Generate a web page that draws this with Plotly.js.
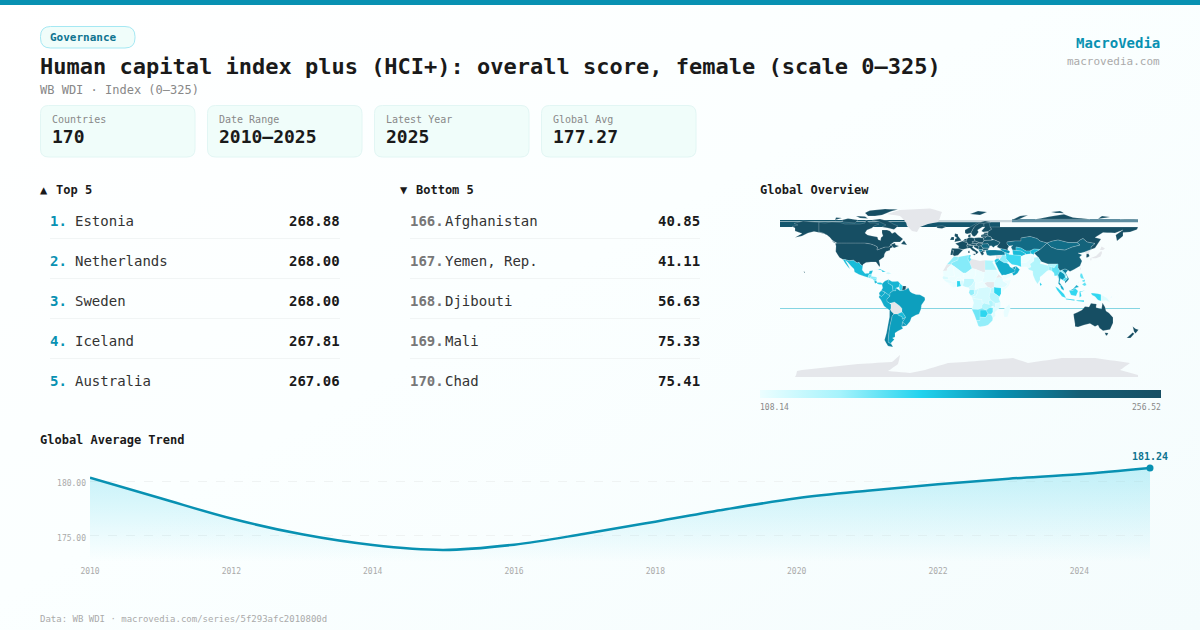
<!DOCTYPE html>
<html><head><meta charset="utf-8">
<style>html,body{margin:0;padding:0;width:1200px;height:630px;overflow:hidden;background:linear-gradient(150deg,#ffffff 0%,#fbffff 45%,#f4fcfd 100%)}</style>
<script>window.PlotlyGeoAssets={topojson:{}};</script>
<script src="https://cdn.plot.ly/plotly-3.0.1.min.js"></script>
</head><body><div id="chart" style="width:1200px;height:630px"></div>
<script>
// ---- data ----
const trendYears=[2010,2011,2012,2013,2014,2015,2016,2017,2018,2019,2020,2021,2022,2023,2024,2025];
const trendValues=[180.34,178.46,176.6,175.15,174.17,173.72,174.2,175.2,176.31,177.45,178.45,179.15,179.75,180.25,180.66,181.24];
const topNames=['Estonia','Netherlands','Sweden','Iceland','Australia'];
const topRanks=['1.','2.','3.','4.','5.'];
const topScores=['268.88','268.00','268.00','267.81','267.06'];
const bottomNames=['Afghanistan','Yemen, Rep.','Djibouti','Mali','Chad'];
const bottomRanks=['166.','167.','168.','169.','170.'];
const bottomScores=['40.85','41.11','56.63','75.33','75.41'];
const cardLabels=['Countries','Date Range','Latest Year','Global Avg'];
const cardValues=['170','2010–2025','2025','177.27'];
const scaleMin=108.14, scaleMax=256.52;
const mapCodes=['USA','CAN','RUS','AUS','NZL','GBR','IRL','ISL','FRA','DEU','ESP','PRT','ITA','NLD','BEL','CHE','AUT','DNK','NOR','SWE','FIN','EST','LVA','LTU','POL','CZE','SVK','HUN','BLR','UKR','ROU','BGR','SRB','HRV','ALB','GRC','TUR','KAZ','CHN','MNG','KOR','GEO','UZB','KGZ','TKM','IRN','IRQ','JOR','SAU','ARE','OMN','YEM','AFG','PAK','IND','LKA','BGD','MMR','THA','LAO','KHM','VNM','MYS','IDN','PHL','PNG','MEX','GTM','HND','NIC','CRI','PAN','CUB','HTI','COL','VEN','GUY','SUR','ECU','PER','BRA','PRY','URY','ARG','CHL','MAR','DZA','TUN','EGY','MRT','MLI','SEN','GIN','SLE','CIV','BFA','GHA','TGO','NGA','NER','TCD','CMR','CAF','SDN','ETH','SOM','KEN','UGA','GAB','COG','COD','AGO','ZMB','TZA','MOZ','MWI','ZWE','BWA','NAM','ZAF','MDG'];
const mapValues=[258,258,255,258,258,258,258,258,258,258,258,258,258,258,258,258,258,258,258,258,258,258,258,258,258,258,258,253,243,237,221,230,237,253,207,249,208,219,224,218,258,194,181,178,178,161.5,143,173,185,194,185,41,41,111,133,170,142,154,194,142,157,207,185,164,154,114,178,150,145,150,181,170,173,122,185,181,165,250,185,185,191,178,194,191,207,142,145,154,133,108,75,116,111,100,110,100,165,116,126,80,75,118,100,111,113,100,165,126,142,122,118,118,133,130,113,126,154,165,150,142,110];
const missingCodes=['GRL','ATA','LBY','BOL','SSD','JPN','PRK','GUF','ESH','ERI','SYR','TWN'];
const mapShapes={
USA:['-124.7,48.4 -123,49 -95,49 -89,48 -85,46.5 -82.5,45 -83,42 -79,43.5 -75,45 -71,45 -69,47.3 -67,45 -70,43.5 -70,41.7 -74,40.5 -75.5,38 -76,35 -81,31.5 -80,27 -80.5,25 -82.5,28 -84,30 -89,30 -94,29.5 -97,27.5 -97.2,26 -99.5,27.5 -101,29.7 -103,29 -106.5,31.8 -111,31.3 -115,32.5 -117.1,32.5 -120.5,34.5 -122.5,37.5 -124.3,40.5 -124,46','-141,69.6 -141,60 -137,59 -133,57 -130,54.5 -134,58 -146,60.5 -152,59 -158,56 -165,54.5 -158,58.5 -165,61 -165,64 -168,65.5 -162,67 -166,68.5 -157,71','-156.2,20.8 -155,19.8 -155.7,19 -156,19.8'],
CAN:['-141,69.6 -135,69 -128,70 -120,69.5 -115,68 -108,68 -100,68 -95,69 -94,72 -90,69 -85,69 -81,68 -86,66 -88,64 -93,62 -95,59 -92.5,57 -88,56 -82.5,55 -82,52.5 -79.5,51.5 -79,54.5 -77,56 -78,59 -78,62 -73,62 -70,61 -68,58.5 -65,60 -62,57 -57,53 -60,50 -66,50 -70,47 -65,49 -64.5,47 -61,46 -66,44 -67,45 -69,47.3 -71,45 -75,45 -79,43.5 -83,42 -82.5,45 -85,46.5 -89,48 -95,49 -123,49 -125,50 -128,52 -130,54.5 -133,57 -137,59 -141,60','-80,73 -72,71 -67,68 -62,66 -66,62.5 -72,64 -78,65 -74,67 -80,70 -88,72','-117,70 -105,69 -102,72 -112,73.5 -118,72','-92,76 -85,76 -78,77 -68,81 -62,82.5 -75,83 -90,81.5 -95,79','-125,72 -118,74 -124,74.5','-100,74 -92,73.5 -95,75.5 -104,76','-59,48 -56,51.5 -53,47','-128,50.5 -125,49 -124,48.5 -126,50.5'],
GRL:['-73,78 -60,82 -30,83.6 -18,80 -20,74 -22,70 -32,68 -40,65 -43,60 -48,61 -53,66 -54,70 -60,76'],
ATA:['-165,-85 -163,-79 -158,-78 -102,-72 -68,-70 -60,-63 -62,-72 -72,-79 -50,-81 -35,-78 -12,-71 5,-70 53,-66 68,-71 102,-66 135,-66 170,-71 160,-78 178,-83 178,-85'],
MEX:['-117.1,32.5 -115,32.5 -111,31.3 -106.5,31.8 -103,29 -101,29.7 -99.5,27.5 -97.2,26 -97.8,22 -95,18.5 -91,18.7 -90.5,21 -87,21.5 -88.5,18 -91,17.5 -92,14.5 -96,15.8 -101,17.5 -105.5,20 -106,23 -109,26 -112.5,30 -114.7,31.5 -112,27 -110,23 -112,25 -115,29'],
GTM:['-92,14.5 -91,17.5 -88.5,18 -88.5,15.7 -90,13.7'],HND:['-90,13.7 -88.5,15.7 -83.2,15 -85,13 -87.5,13'],NIC:['-87.5,13 -85,13 -83.2,15 -83.7,11 -85.7,11'],CRI:['-85.7,11 -83.7,11 -82.7,9.5 -85,8.5'],PAN:['-82.7,9.5 -79.5,9.5 -77.5,8.7 -78,7.3 -80.5,7.5 -83,8.2'],
CUB:['-85,22 -80,23 -74.2,20.2 -77.5,19.9 -78.5,21.7 -82,22.5'],HTI:['-74.4,18.5 -72,20 -68.5,18.5 -71.5,17.8'],
COL:['-77.5,8.7 -75,11 -71.5,12.4 -72,9 -67.5,6.2 -67,1.2 -70,-1 -70,-4.2 -72,-2.5 -75.3,0 -78.8,1.4 -77.3,4 -78,7.3'],
VEN:['-71.5,12.4 -68,10.5 -62,10.7 -60,8.5 -61,5 -64,4 -64,1.3 -67,1.2 -67.5,6.2 -72,9'],GUY:['-60,8.5 -57.2,6 -58,1.5 -60,1.3 -61,5'],SUR:['-57.2,6 -54,5.9 -54.5,2.3 -58,1.5'],GUF:['-54,5.9 -51.6,4.3 -54.5,2.3'],
ECU:['-78.8,1.4 -75.3,0 -75.3,-1.5 -78.3,-4.5 -80.3,-3.4 -81,-1'],PER:['-80.3,-3.4 -78.3,-4.5 -75.3,-1.5 -75.3,0 -72,-2.5 -70,-4.2 -73,-7 -73,-9.5 -70.5,-11 -69,-12.5 -69,-16 -69.5,-17.5 -70.4,-18.3 -76,-14 -79,-8 -81.3,-5'],
BOL:['-69,-12.5 -69,-11 -65.5,-10 -60.5,-13.7 -58,-16.5 -58,-20 -62.5,-22 -66,-22 -69,-19 -69.5,-17.5 -69,-16'],
BRA:['-51.6,4.3 -54.5,2.3 -58,1.5 -60,1.3 -64,4 -64,1.3 -67,1.2 -70,-1 -70,-4.2 -73,-7 -73,-9.5 -70.5,-11 -69,-11 -65.5,-10 -60.5,-13.7 -58,-16.5 -58,-20 -55,-24 -54.6,-25.6 -57.5,-30 -53.5,-33.7 -50,-29.5 -48.5,-25.5 -44,-23 -41,-22 -39,-17 -38.5,-13 -35,-8 -35.2,-5.5 -40,-2.8 -44,-2.5 -48,-1 -50,0.5'],
PRY:['-62.5,-22 -58,-20 -55,-24 -54.6,-25.6 -57.7,-27.3 -58,-24.5 -61,-23.8'],URY:['-57.5,-30 -53.5,-33.7 -58.3,-34.5 -58,-33'],
ARG:['-66,-22 -62.5,-22 -61,-23.8 -58,-24.5 -57.7,-27.3 -54.6,-25.6 -57.5,-30 -58,-33 -58.3,-34.5 -57,-36.5 -62,-39 -65,-41 -65,-45 -67.5,-46 -65.7,-47.5 -69,-51 -68.4,-52.4 -72,-50 -71.5,-44 -71,-39 -70,-33 -68.5,-27 -68,-24'],
CHL:['-69.5,-17.5 -69,-19 -66,-22 -68,-24 -68.5,-27 -70,-33 -71,-39 -71.5,-44 -72,-50 -68.4,-52.4 -67,-55 -72,-54 -75.5,-48 -73.5,-41 -72,-33 -70.5,-25 -70.4,-18.3'],
ISL:['-24,65.5 -18,66.3 -14,65 -18,63.4 -22.5,64'],IRL:['-10,52 -6,52 -6,55 -8.5,55'],GBR:['-5.5,50 1.5,51.5 0,53.5 -2,56 -2,57.7 -5,58.6 -5.5,56 -3,54 -5,53 -5,51.5'],
PRT:['-9.5,37 -7.4,37 -6.5,41.7 -8.8,42'],ESP:['-8.8,42 -6.5,41.7 -7.4,37 -5.5,36 -2,36.8 0,39 3,42 -1.7,43.4 -8,43.7'],
FRA:['-1.7,43.4 3,42.5 7.5,43.8 7,47.5 8,49 2.5,51 -1.5,49.5 -4.7,48.5 -1.2,46'],NLD:['3.4,51.4 6,51 7,53.3 4.7,53'],BEL:['2.5,51 3.4,51.4 6,51 6.2,49.5'],
DEU:['6,51 7,53.3 9,54.8 14,54 15,51 12.2,50.3 13.7,48.7 10,47.4 7.6,47.6 8,49 6.2,49.5'],CHE:['6,46.2 7.6,47.6 10,47.4 10.4,46.5 8,46'],AUT:['10,47.4 13.7,48.7 17,48.5 16,46.8 10.4,46.5'],
ITA:['7,45.5 8,46 10.4,46.5 13.7,46.5 12.3,44.5 16,41.8 18.5,40 16.8,38 16,38 15.5,40 12.5,41.5 10,44 7.5,43.8','12.5,38 15.6,38.2 15,36.7','8.2,39 9.7,39 9.5,41.2 8.2,41'],
DNK:['8,55 8.3,57 10.7,57.7 10.5,55'],NOR:['5,59 5,62 12,66 17,69 25,71 31,70 29,69.5 24,68.6 20,69 15,66 12,61 11,59 7,58','10,78 18,81 27,80 20,77'],SWE:['11,59 12,61 15,66 20,69 24,68 24,66 17.5,62 18.5,60 16.5,57 14.5,55.5 12.7,56'],FIN:['24,66 24,68.6 29,69.5 30,65 31.5,62.8 28,60.5 23,60 21.5,61 25,65'],
EST:['23.5,59.3 28,59.5 27.5,57.6 24.3,58'],LVA:['21,57 24.3,58 27.5,57.6 28,56 26.6,55.7 21,56'],LTU:['21,56 26.6,55.7 25,54 23.4,54 21,55.3'],BLR:['23.4,54 25,54 26.6,55.7 28,56 31,55 32,53 31,51.8 24,51.5'],
POL:['14,54 19,54.5 23.4,54 24,51.5 22.7,49.2 19,49.5 15,51'],CZE:['12.2,50.3 15,51 19,49.5 17,48.5 13.7,48.7'],SVK:['17,48.5 19,49.5 22.7,49.2 22,48.3 18.5,47.9'],HUN:['16,46.8 17,48.5 18.5,47.9 22,48.3 22.8,47.9 21,46.2 18.5,45.8'],
UKR:['24,51.5 31,51.8 34,52.2 40,49.6 38,47 35,46 33.5,44.5 31,46.5 29.5,45.4 28,48.3 22.8,47.9 22,48.3 22.7,49.2'],ROU:['22.8,47.9 28,48.3 29.7,45 28.6,43.8 23,43.8 21,46.2'],BGR:['23,43.8 28.6,43.8 28,42 23,41.4'],
HRV:['13.7,46.5 16,46.8 18.5,45.8 18.8,45 18.5,42.5 14,45'],SRB:['18.5,45.8 21,46.2 23,43.8 22.5,42.3 20,42.5 18.5,42.5 18.8,45'],ALB:['18.5,42.5 19.3,41 20,39.7 22.5,41 22.5,42.3 20,42.5'],GRC:['20,39.7 22,36.5 24,38 23,40 26,41 23,41.4 22.5,41'],
RUS:['28,60.5 31.5,62.8 30,65 178,65 177,62.5 170,60 163,59.5 163,56 157,51 155.7,57 163,62 155,59 143,59.5 135,54.5 141,53 135,44 131,42.5 131,45 135,48.5 127,50 123,53.5 120,52 117,49.5 108,49.5 98,52 92,50.8 87,49 80,51 77,53.5 70,55.5 61,54 61,51 55,51 47,50 47,48 49,46 47.5,43 48.5,41.5 45,42.5 40,43.5 37,45 38,47 40,49.6 34,52.2 32,53 31,55 28,56 27.5,57.6 28,59.5','75,72.8 80,73.5 90,75.5 104,77.7 113,74.5 130,72.8','52,72 57,72 68,76.8 60,76','138,73 150,75 142,76','178,72.8 170,73 160,72.8','91,80 100,81 104,78.8 96,79'],
KAZ:['47,50 55,51 61,51 61,54 70,55.5 77,53.5 80,51 87,49 85,47 80,42.5 74,43 70,41 66,41 61,44 56,45 56,41.5 52.5,42 51,45 53,46.5 49,46 47,48'],MNG:['87,49 92,50.8 98,52 108,49.5 117,49.5 120,47 112,45 105,42 97,42.8 91,45'],
CHN:['80,42.5 85,47 87,49 91,45 97,42.8 105,42 112,45 120,47 117,49.5 120,52 123,53.5 127,50 135,48.5 131,45 131,42.5 124.5,40 121,39 118,39 122,37 119.5,35 122,31 120,26 114,22.5 110,20.5 108,21.7 105,23 102,22 100,21 98,24 98,28 97,28 92,28 88,28 81,30.5 78,35 74,39'],
IND:['74,34.5 78,35 81,30.5 80,28.5 88,26.5 88,28 92,28 97,28 94,24 92,25 89,26 89,22 87,21 82,16.5 80,15 80,12 77.5,8 75,12 73,17 72.7,21 69,22.3 68,23.7 71,25 70,28 74,31'],PAK:['61,29.5 66,29.5 70,33 71,36 74,37 74,34.5 74,31 70,28 71,25 68,23.7 66.5,25.3 61.5,25'],AFG:['61,29.5 66,29.5 70,33 71,36 74,37 71,38.3 65,37.2 61,35.5'],
IRN:['44.8,39.5 48,38.5 49,37.5 54,37 61,36.5 61,35.5 61,29.5 61.5,25 57,26.8 52,27.5 49,30 46,33 46,36'],IRQ:['42,37 44.8,37 46,36 46,33 48.5,30 46.5,29 44,29.3 39,32.3 41,34.5'],SYR:['36,36.8 42,37 41,34.5 38.7,33.4 36,33'],JOR:['34.5,31.5 36,33 38.7,33.4 39,32.3 37,30 35,29.5'],
SAU:['35,29.5 37,30 39,32.3 44,29.3 46.5,29 48.5,28 50.2,25 52,24 55,22.5 55,20 52,19 46,17 43,17 42,16.5 39,21'],YEM:['43,17 46,17 52,19 53,16.5 45,12.8 43.3,12.7 42.7,15'],OMN:['55,22.5 56.3,25.8 59.7,22.5 57.7,19 55,17 53,16.5 52,19 55,20'],ARE:['52,24 56,26 55,22.5'],
TUR:['26,40 26,41.8 35,42 41.5,41.5 44.8,39.5 44.8,37 42,37 36,36.8 30,36.2 27,37'],GEO:['40,43.5 45,42.5 48.5,41.5 50,40.2 48.9,38.4 44.8,39.5 41.5,41.5'],TKM:['53,37.3 54,37 61,36.5 61,35.5 65,37.2 66,38 61,41 56,41.5 52.5,42'],UZB:['56,41.5 56,45 61,44 66,41 70,41 71,38.3 65,37.2 66,38 61,41'],KGZ:['70,41 74,43 80,42.5 74,39 74,37 71,38.3'],
BGD:['89,26 92,25 92,21 89,22'],MMR:['92,21 92,25 94,24 97,28 98,28 98,24 100,21 98,17 98.5,10 97.5,16.5 94.5,16 94,19'],THA:['98,17 100,21 104.5,18 105.5,14.7 102.5,12 100.5,13.5 99.5,9.5 101.5,6.7 100,6.5 98.3,8.5 99,13'],LAO:['100,21 102,22 105,19 107,16 105.5,14.7 104.5,18'],KHM:['102.5,12 105.5,14.7 107.5,13.5 105,10.5'],VNM:['102,22 105,23 108,21.7 105.8,19 109,13 107,10.5 105,8.8 105,10.5 107.5,13.5 107,16 105,19'],
MYS:['100,6.5 101.5,6.7 103.5,4 104,1.5 101.5,3','109.7,1.5 113,3 116.5,7 119,5 115,4 113,1.5'],IDN:['95.3,5.5 98,4 104,-2 106,-6 102,-4.5 97,2','105.5,-6.5 114.5,-7.5 114.5,-8.7 106,-7.5','109,1.5 113,1.5 115,4 118,1 116,-4 111,-3','119.5,-5.5 119.5,0.5 125,1.5 120.5,0 121.5,-4','131,-1 138,-1.7 141,-2.6 141,-9 138,-8 135,-4.5 132,-3','116,-8.3 124,-8.3 124,-10 117,-9'],
PNG:['141,-2.6 147,-6 150.5,-10.5 146,-8.5 141,-9','150,-5.5 152,-4.2 152,-5.5'],PHL:['120,16 120.5,18.5 122,18.5 124,13 121,13.7','122,7.5 125,9.7 126.5,7 124.5,6','117.5,8.5 119.5,11 118.5,9.5','122,11.5 125,12.5 125,10.5 123,10'],
JPN:['130.8,34 136,36 140,40 141.5,41 142,39 140.5,35.5 136,33.7','140,42 141.5,45.5 145,43.5 143,42','130,33.5 131.7,33.5 131,31'],KOR:['126.5,38 128.5,38.3 129.5,36 128,34.8 126.3,34.5'],PRK:['124.5,40 131,42.5 128.5,38.3 126.5,38'],LKA:['80,9.5 81.8,7.5 80.5,6 79.8,8'],TWN:['121,25 121,22 120,23'],
AUS:['113.5,-22 114,-26 115,-32 115,-34.5 118,-35 124,-33 130,-31.5 135,-34.5 138,-33 139.5,-36 143,-38.8 147,-38 150,-37.5 153,-31 153,-25.5 149,-21 146,-19 145,-15 142.5,-10.8 141.5,-17 136,-15.5 136.5,-12 131,-11.3 129,-15 125,-14.5 122,-18 117,-20.5','144.7,-40.7 148.3,-40.9 147,-43.6 146,-43.5'],NZL:['172.7,-34.5 175.5,-36.7 178.5,-37.7 175.5,-41.5 174,-39.5','172.7,-40.5 174.3,-41.7 170.5,-46 166.7,-46'],
MAR:['-13,27.7 -8.7,27.7 -8.7,29 -2,32 -1.7,35 -6,35.8 -10,31'],ESH:['-17,21 -13,27.7 -8.7,27.7 -8.7,27.3 -13,23.5 -12.9,21.3'],DZA:['-8.7,27.7 -8.7,29 -2,32 -1.7,35 8.5,37 8,33 9.5,30 12,23.5 6,19 3,19 -5,25'],TUN:['8.5,37 11,37 10,34 11.5,33 9.5,30 8,33'],LBY:['9.5,30 11.5,33 15,32.3 20,31 25,31.7 25,20 24,19.5 15,23 12,23.5'],EGY:['25,31.7 34,31.3 32.5,29.8 37,22 25,22'],
MRT:['-17,21 -12.9,21.3 -13,23.5 -8.7,27.3 -5,25 -6.5,25 -5.5,15.5 -12,15 -16.5,16'],MLI:['-5,25 3,19 4,15 0,15 -3,14.5 -5.5,10.5 -8,10.5 -11.5,12.5 -12,15 -5.5,15.5 -6.5,25'],SEN:['-16.5,16 -12,15 -11.5,12.5 -16.7,12.4 -17.5,14.7'],GIN:['-16.7,12.4 -11.5,12.5 -8,10.5 -8,8 -13,9.5'],SLE:['-13,9.5 -8,8 -7.5,4.5'],CIV:['-8,8 -8,10.5 -5.5,10.5 -3,10.9 -3,5 -7.5,4.5'],BFA:['-5.5,10.5 -3,10.9 0,11 2.4,12 0,15 -3,14.5'],GHA:['-3,5 -3,10.9 0,11 1,6'],TGO:['1,6 0,11 2.4,12 3.8,10 2.7,6.3'],
NGA:['2.7,6.3 3.8,10 4,13.5 13.5,13.5 14.5,11 12,7 8.5,4.5 5.5,5'],NER:['4,15 3,19 6,19 12,23.5 15,23 16,20 15.5,16.5 13.5,13.5 4,13.5 2.4,12 0,15'],TCD:['15,23 24,19.5 24,15.5 22.5,11 19,9 15.5,9 14.5,11 13.5,13.5 15.5,16.5 16,20'],CMR:['8.5,4.5 12,7 14.5,11 15.5,9 15,4 16,2 9.7,2.3'],CAF:['15,4 15.5,9 19,9 22.5,11 27.5,5 18.5,3.7 16,2'],
SDN:['24,15.5 24,19.5 25,20 25,22 37,22 38.5,18 36,14 34,10 27,10 24,9 22.5,11'],SSD:['24,9 27,10 34,10 34,5 31,3.7 27.5,5 22.5,11'],ERI:['36,14 38.5,18 43,12.7 40,14.5'],ETH:['34,10 36,14 40,14.5 43,12.7 42.8,11 48,8 45,5 41,4 36,4.5 34,5'],SOM:['43,11.5 51,12 49,6.5 41,-1.7 41,4 45,5 48,8'],KEN:['34,5 36,4.5 41,4 41,-1.7 39.3,-4.7 34,-1 34,1'],UGA:['31,3.7 34,5 34,1 34,-1 30,-1'],
GAB:['9.7,2.3 14,2.3 14.5,-2 11,-3.8 8.8,-0.7'],COG:['14,2.3 16,2 18.5,3.7 17.5,-1 16,-4 12,-5 11,-3.8 14.5,-2'],COD:['18.5,3.7 27.5,5 31,3.7 30,-1 29.3,-4.5 30.7,-8.2 28.5,-9 29.5,-12.5 27,-12 24,-11 22,-11 21.8,-7.5 16,-7 12.3,-6 12,-5 16,-4 17.5,-1'],AGO:['12.3,-6 16,-7 21.8,-7.5 22,-11 24,-11 22,-13 22,-16.5 18,-17.4 11.8,-17.3 13.7,-11'],
ZMB:['22,-13 24,-11 27,-12 29.5,-12.5 28.5,-9 30.7,-8.2 33,-9.5 33,-14 30.3,-15.5 26,-18 22,-16.5'],TZA:['30,-1 34,-1 39.3,-4.7 39,-7 40.5,-10.5 35,-11.5 33,-9.5 30.7,-8.2 29.3,-4.5'],MOZ:['40.5,-10.5 40.5,-15 35,-20 35.5,-24 32.8,-26 32,-24 32.8,-20 32.8,-16 30.3,-15.5 33,-14 35,-16 35,-11.5'],MWI:['33,-9.5 35,-11.5 35,-16 33,-14'],ZWE:['26,-18 30.3,-15.5 32.8,-16 32.8,-20 31,-22.4 28,-22'],BWA:['20,-18 26,-18 28,-22 25.5,-25.5 20,-25 20,-22'],NAM:['11.8,-17.3 18,-17.4 22,-16.5 26,-18 20,-18 20,-22 20,-28.5 16.5,-28.6 14.5,-23'],ZAF:['16.5,-28.6 20,-28.5 20,-25 25.5,-25.5 28,-22 31,-22.4 32,-24 32.8,-26 32.5,-28.5 28,-33 25,-34 20,-34.8 18.3,-34'],MDG:['49.5,-12 50.3,-16 47.5,-25 44,-25 43.5,-20 44.5,-16.5']
};
// ---- helpers ----
const W=1200,H=630,MONO='"DejaVu Sans Mono",monospace';
const px=x=>x/W, py=y=>1-y/H;
function ringOf(s){
  const p=s.split(' ').map(q=>q.split(',').map(Number)); const out=[];
  for(let i=0;i<p.length;i++){const a=p[i],b=p[(i+1)%p.length];const n=Math.max(1,Math.ceil(Math.abs(b[0]-a[0])/5));
    for(let k=0;k<n;k++)out.push([a[0]+(b[0]-a[0])*k/n,a[1]+(b[1]-a[1])*k/n]);}
  let area=0;for(let i=0;i<out.length;i++){const a=out[i],b=out[(i+1)%out.length];area+=a[0]*b[1]-b[0]*a[1];}
  if(area>0)out.reverse(); out.push(out[0]); return out;
}
const features=Object.keys(mapShapes).map(id=>({type:'Feature',id:id,properties:{},geometry:{type:'MultiPolygon',coordinates:mapShapes[id].map(r=>[ringOf(r)])}}));
const geojson={type:'FeatureCollection',features:features};
const emptyTopo={type:'Topology',objects:{},arcs:[],transform:{scale:[1,1],translate:[0,0]}};
['world_110m','un/world_110m','un_world_110m','world_50m','un/world_50m'].forEach(k=>window.PlotlyGeoAssets.topojson[k]=emptyTopo);

const annotations=[],shapes=[];
function text(x,y,t,size,color,opt){opt=opt||{};annotations.push({xref:'paper',yref:'paper',x:px(x),y:py(y),text:opt.bold?'<b>'+t+'</b>':t,showarrow:false,xanchor:opt.anchor||'left',yanchor:'middle',align:opt.anchor||'left',font:{family:MONO,size:size,color:color},borderpad:0,borderwidth:0});}
function rect(x0,y0,x1,y1,fill,line){shapes.push({type:'rect',layer:'below',xref:'paper',yref:'paper',x0:px(x0),x1:px(x1),y0:py(y0),y1:py(y1),fillcolor:fill,line:line?{color:line,width:1}:{width:0}});}
function round(x0,y0,x1,y1,r,fill,line){const X=v=>px(v),Y=v=>py(v);
  const path=`M${X(x0+r)},${Y(y0)} L${X(x1-r)},${Y(y0)} Q${X(x1)},${Y(y0)} ${X(x1)},${Y(y0+r)} L${X(x1)},${Y(y1-r)} Q${X(x1)},${Y(y1)} ${X(x1-r)},${Y(y1)} L${X(x0+r)},${Y(y1)} Q${X(x0)},${Y(y1)} ${X(x0)},${Y(y1-r)} L${X(x0)},${Y(y0+r)} Q${X(x0)},${Y(y0)} ${X(x0+r)},${Y(y0)} Z`;
  shapes.push({type:'path',layer:'below',xref:'paper',yref:'paper',path:path,fillcolor:fill,line:{color:line,width:1}});}
const INK='#1a1a1a',TEAL='#0891b2',DEEP='#0e7490',GREY='#888888',PALE='#aaaaaa';

rect(0,0,1200,5,TEAL);
round(40.5,26.5,135,48,10,'#f0fdfa','#a5e8f3');
text(50,37,'Governance',11,DEEP,{bold:true});
text(40,67,'Human capital index plus (HCI+): overall score, female (scale 0–325)',22,INK,{bold:true});
text(40,90,'WB WDI · Index (0–325)',12,GREY);
text(1160,43,'MacroVedia',14,TEAL,{bold:true,anchor:'right'});
text(1160,62,'macrovedia.com',11,PALE,{anchor:'right'});
[40,207,374,541].forEach((x,i)=>{round(x+.5,105.5,x+155,157,8,'#f0fdfa','#e2f6f4');text(x+12,119,cardLabels[i],10,GREY);text(x+12,136.5,cardValues[i],18,INK,{bold:true});});
text(40,190,'▲',12,INK,{bold:true});text(56,190,'Top 5',12,INK,{bold:true});
text(400,190,'▼',12,INK,{bold:true});text(416,190,'Bottom 5',12,INK,{bold:true});
text(760,190,'Global Overview',12,INK,{bold:true});
[0,1,2,3,4].forEach(i=>{const y=221+40*i;
  text(50,y,topRanks[i],14,TEAL,{bold:true});text(75,y,topNames[i],14,'#333333');text(340,y,topScores[i],14,INK,{bold:true,anchor:'right'});
  text(410,y,bottomRanks[i],14,'#777777',{bold:true});text(445,y,bottomNames[i],14,'#333333');text(700,y,bottomScores[i],14,INK,{bold:true,anchor:'right'});
  if(i<4){rect(50,y+17,340,y+18,'#f1f5f5');rect(410,y+17,700,y+18,'#f1f5f5');}
});
text(760,407,scaleMin.toFixed(2),8,GREY);
text(1161,407,scaleMax.toFixed(2),8,GREY,{anchor:'right'});
text(40,440,'Global Average Trend',12,INK,{bold:true});
text(40,619,'Data: WB WDI · macrovedia.com/series/5f293afc2010800d',9,PALE);
// map wrap stripes
rect(780,220,905,221.4,'#14566d');rect(780,222,1000,227,'#14566d');rect(905,220,1012,222.2,'#c9d6db');rect(1012,219,1138,222.2,'#5e8ea1');rect(780,308,1140,309,'#84d5e2');

const cyanScale=[[0,'#ecfeff'],[0.2,'#a5f3fc'],[0.4,'#22d3ee'],[0.6,'#0891b2'],[0.8,'#155e75'],[1,'#164e63']];
const traces=[
 {type:'choropleth',geo:'geo',geojson:geojson,locations:missingCodes,z:missingCodes.map(()=>1),colorscale:[[0,'#e5e7eb'],[1,'#e5e7eb']],showscale:false,marker:{line:{width:0}},hoverinfo:'skip'},
 {type:'choropleth',geo:'geo',geojson:geojson,locations:mapCodes,z:mapValues,zmin:scaleMin,zmax:scaleMax,colorscale:cyanScale,marker:{line:{color:'rgba(255,255,255,0.45)',width:0.4}},hoverinfo:'skip',
  colorbar:{orientation:'h',x:px(760),xanchor:'left',y:py(398),yanchor:'bottom',thickness:8,thicknessmode:'pixels',len:401,lenmode:'pixels',outlinewidth:0,borderwidth:0,xpad:0,ypad:0,showticklabels:false,ticks:''}},
 {type:'scatter',mode:'lines',x:trendYears,y:trendValues,xaxis:'x',yaxis:'y',line:{color:TEAL,width:2.5,shape:'spline',smoothing:1},fill:'tozeroy',fillgradient:{type:'vertical',start:172.61,stop:181.24,colorscale:[[0,'rgba(30,200,230,0)'],[1,'rgba(30,200,230,0.25)']]},hoverinfo:'skip',showlegend:false},
 {type:'scatter',mode:'markers+text',x:trendYears.slice(-1),y:trendValues.slice(-1),text:[trendValues[trendValues.length-1].toFixed(2)],textposition:'top center',textfont:{family:MONO,size:10,color:DEEP,weight:700},marker:{color:TEAL,size:7},cliponaxis:false,hoverinfo:'skip',showlegend:false}
];
const layout={width:W,height:H,margin:{l:0,r:0,t:0,b:0},paper_bgcolor:'rgba(0,0,0,0)',plot_bgcolor:'rgba(0,0,0,0)',showlegend:false,font:{family:MONO},annotations:annotations,shapes:shapes,
 xaxis:{domain:[px(90),px(1150)],range:[2010,2025],tickvals:[2010,2012,2014,2016,2018,2020,2022,2024],tickformat:'d',showgrid:false,zeroline:false,showline:false,ticks:'',ticklabelstandoff:3,tickfont:{family:MONO,size:8,color:PALE},fixedrange:true},
 yaxis:{domain:[py(562),py(460)],range:[172.61,181.97],tickvals:[175,180],tickformat:'.2f',showgrid:true,gridcolor:'#eff3f3',griddash:'dash',gridwidth:1,zeroline:false,showline:false,ticks:'',ticklabelstandoff:3,ticklabelshift:2,tickfont:{family:MONO,size:8,color:PALE},fixedrange:true},
 geo:{domain:{x:[px(780),px(1140)],y:[py(382),py(202)]},bgcolor:'rgba(0,0,0,0)',showframe:false,showland:false,showcoastlines:false,showcountries:false,showocean:false,showlakes:false,showrivers:false,projection:{type:'equirectangular'},lonaxis:{range:[-180,180],showgrid:false},lataxis:{range:[-90,90],showgrid:false}}
};
Plotly.newPlot('chart',traces,layout,{staticPlot:true,displayModeBar:false});
</script></body></html>
